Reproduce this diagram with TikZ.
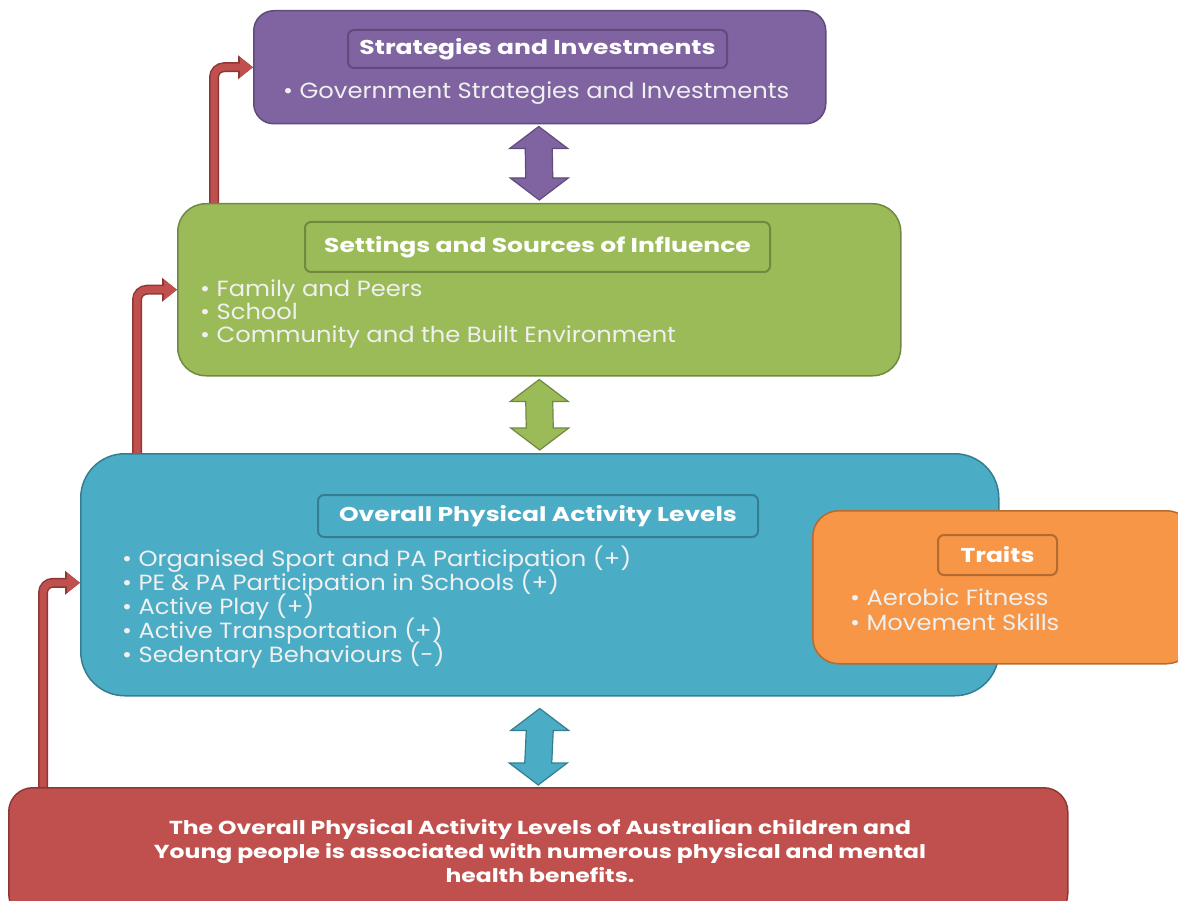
\documentclass[tikz,border=0pt]{standalone}
\usepackage{fontspec}
\setmainfont{Poppins}
\newfontfamily\bodyfont{Poppins}[FakeStretch=1.1]
\newfontfamily\headfont{Poppins}[FakeStretch=1.25]
\usetikzlibrary{calc,arrows.meta,backgrounds}
\setlength{\lineskiplimit}{-20pt}

\definecolor{stratfill}{HTML}{8064A2}
\definecolor{stratline}{HTML}{5F4B7C}
\definecolor{settfill}{HTML}{9BBB59}
\definecolor{settline}{HTML}{71893F}
\definecolor{levelfill}{HTML}{4BACC6}
\definecolor{levelline}{HTML}{357E92}
\definecolor{traitfill}{HTML}{F79646}
\definecolor{traitline}{HTML}{B56B30}
\definecolor{outfill}{HTML}{C0504D}
\definecolor{outline}{HTML}{8D3835}

\tikzset{
  panel/.style={rounded corners=#1, line width=1.5pt, anchor=north west, inner sep=0pt},
  heading/.style={rounded corners=6pt, line width=2pt, inner sep=0pt, text=white,
    font=\headfont\bfseries\fontsize{20}{22}\selectfont},
  items/.style={anchor=north west, inner sep=0pt, align=left, text=white!94!black,
    font=\bodyfont\fontsize{22}{#1}\selectfont},
  items/.default=24,
  elbow/.style={outfill, line width=7pt, rounded corners=10pt,
    -{Triangle[width=19pt,length=13pt]},
    preaction={draw=outline, line width=10pt, -{Triangle[width=23pt,length=15pt]}}}
}

% vertical double arrow from #1 (top) to #2 (bottom)
\newcommand\dblarrow[3]{%
  \filldraw[fill=#3fill, draw=#3line, line width=1.2pt]
    (#1) -- ++(29,22) -- ++(-15.5,0) -- ($(#2)+(13.5,-22)$) -- ++(15.5,0)
    -- (#2) -- ++(-29,-22) -- ++(15.5,0) -- ($(#1)+(-13.5,22)$) -- ++(-15.5,0) -- cycle;}

\begin{document}
\begin{tikzpicture}[x=1pt,y=-1pt]
\useasboundingbox (0,0) rectangle (1178,901);

% boxes
\node[panel=20pt, fill=stratfill, draw=stratline, minimum width=572pt, minimum height=113pt] (strat) at (253,10) {};
\node[panel=28pt, fill=settfill, draw=settline, minimum width=723pt, minimum height=172pt] (settings) at (177,203) {};
\node[panel=44pt, fill=levelfill, draw=levelline, minimum width=918pt, minimum height=242pt] (levels) at (80,453) {};
\node[panel=26pt, fill=traitfill, draw=traitline, minimum width=380pt, minimum height=153pt] (traits) at (812,510) {};
\node[panel=24pt, fill=outfill, draw=outline, minimum width=1059pt, minimum height=130pt] (outcome) at (8,787) {};

% headings
\node[heading, fill=stratfill, draw=stratline, minimum width=379pt, minimum height=38pt] (strathead) at (537.5,49) {Strategies and Investments};
\node[heading, fill=settfill, draw=settline, minimum width=465pt, minimum height=50pt] (setthead) at (537.5,247) {Settings and Sources of Influence};
\node[heading, fill=levelfill, draw=levelline, minimum width=440pt, minimum height=42pt] (levelhead) at (538,516) {Overall Physical Activity Levels};
\node[heading, fill=traitfill, draw=traitline, minimum width=119pt, minimum height=40pt] (traithead) at (997.5,555) {Traits};

% bullet lists
\node[items] (stratitems) at (283,82) {• Government Strategies and Investments};
\node[items=23] (settitems) at (200,280) {• Family and Peers\\• School\\• Community and the Built Environment};
\node[items=24] (levelitems) at (122,546) {• Organised Sport and PA Participation (+)\\• PE \& PA Participation in Schools (+)\\• Active Play (+)\\• Active Transportation (+)\\• Sedentary Behaviours (-)};
\node[items=25] (traititems) at (850,589) {• Aerobic Fitness\\• Movement Skills};

\node[align=center, text=white, inner sep=0pt, font=\headfont\bfseries\fontsize{18.8}{24}\selectfont] (outtext) at (540,851)
  {The Overall Physical Activity Levels of Australian children and\\Young people is associated with numerous physical and mental\\health benefits.};

% double arrows
\coordinate (a1) at ($(strat.south)+(-1,2)$);
\coordinate (a2) at ($(settings.north)+(0,-3)$);
\dblarrow{a1}{a2}{strat}
\coordinate (b1) at ($(settings.south)+(0,3)$);
\coordinate (b2) at ($(levels.north)+(0,-3)$);
\dblarrow{b1}{b2}{sett}
\coordinate (c1) at ($(levels.south)+(0,12)$);
\coordinate (c2) at ($(outcome.north)+(0,-2)$);
\dblarrow{c1}{c2}{level}

% elbow arrows
\begin{scope}[on background layer]
\draw[elbow] ($(settings.north west)+(37,2)$) |- (strat.west);
\draw[elbow] ($(levels.north west)+(57,2)$) |- (settings.west);
\draw[elbow] ($(outcome.north west)+(35,2)$) |- ($(levels.west)+(0,8)$);
\end{scope}
\end{tikzpicture}
\end{document}
